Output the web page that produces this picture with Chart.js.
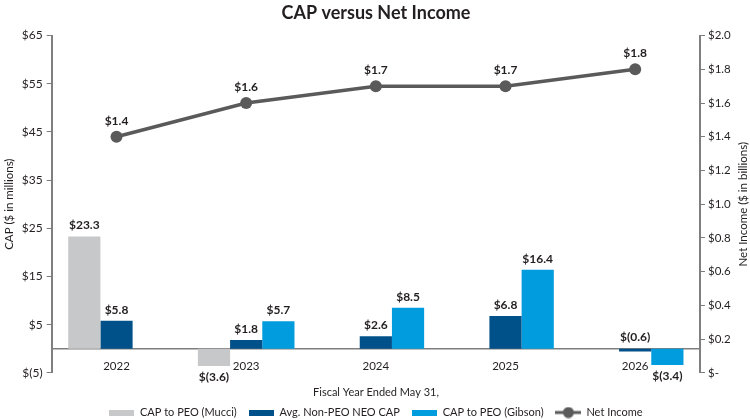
<!DOCTYPE html>
<html>
<head>
<meta charset="utf-8">
<script src="https://cdn.jsdelivr.net/npm/chart.js@4.4.1/dist/chart.umd.min.js"></script>
<style>
  html, body { margin: 0; padding: 0; background: #fff; }
  #wrap { width: 750px; height: 420px; }
</style>
</head>
<body>
<div id="wrap"><canvas id="grafica"></canvas></div>
<script>
const anios = ["2022", "2023", "2024", "2025", "2026"];
const capMucci = [23.3, -3.6, null, null, null];
const capNoPeo = [5.8, 1.8, 2.6, 6.8, -0.6];
const capGibson = [null, 5.7, 8.5, 16.4, -3.4];
const ingresoNeto = [1.4, 1.6, 1.7, 1.7, 1.8];
const ticksCap = [-5, 5, 15, 25, 35, 45, 55, 65];

const fuente = "Lato, sans-serif";
const gris = "#7f7f7f";
const colores = ["#c7c8ca", "#00508a", "#009cde", "#5a5a5a"];
const tituloDerecho = "Net Income ($ in billions)";

function formatoDinero(v) {
  if (v < 0) return "$(" + Math.abs(v).toFixed(1) + ")";
  return "$" + v.toFixed(1);
}

// iconos de leyenda
function iconoBarra(color) {
  const c = document.createElement("canvas");
  c.width = 25; c.height = 6;
  const g = c.getContext("2d");
  g.fillStyle = color;
  g.fillRect(0, 0, 25, 6);
  return c;
}
function iconoLinea(color) {
  const c = document.createElement("canvas");
  c.width = 26; c.height = 12;
  const g = c.getContext("2d");
  g.strokeStyle = color;
  g.lineWidth = 3;
  g.beginPath(); g.moveTo(0, 6); g.lineTo(26, 6); g.stroke();
  g.fillStyle = color;
  g.beginPath(); g.arc(13, 6, 5.5, 0, Math.PI * 2); g.fill();
  return c;
}
const iconos = [iconoBarra(colores[0]), iconoBarra(colores[1]), iconoBarra(colores[2]), iconoLinea(colores[3])];

const etiquetas = {
  id: "etiquetas",
  afterDatasetsDraw(chart) {
    const ctx = chart.ctx;
    ctx.save();
    ctx.font = "bold 12px " + fuente;
    ctx.fillStyle = "#231f20";
    ctx.textAlign = "center";
    chart.data.datasets.forEach((ds, i) => {
      const meta = chart.getDatasetMeta(i);
      meta.data.forEach((el, j) => {
        const v = ds.data[j];
        if (v === null || v === undefined) return;
        let y;
        if (ds.type === "line") {
          ctx.textBaseline = "bottom";
          y = el.y - 10;
        } else if (v >= 0) {
          ctx.textBaseline = "bottom";
          y = el.y - 5;
        } else if (Math.abs(v) < 2) {
          ctx.textBaseline = "bottom";
          y = el.base - 6;
        } else {
          ctx.textBaseline = "top";
          y = el.y + 5;
        }
        ctx.fillText(formatoDinero(v), el.x, y);
      });
    });
    // titulo del eje derecho, leido de abajo hacia arriba
    const s = chart.scales.y2;
    ctx.translate(743, (s.top + s.bottom) / 2);
    ctx.rotate(-Math.PI / 2);
    ctx.font = "11.5px " + fuente;
    ctx.textBaseline = "middle";
    ctx.fillText(tituloDerecho, 0, 0);
    ctx.restore();
  }
};

new Chart(document.getElementById("grafica"), {
  type: "bar",
  data: {
    labels: anios,
    datasets: [
      { label: "CAP to PEO (Mucci)", data: capMucci, backgroundColor: colores[0], yAxisID: "y", order: 1 },
      { label: "Avg. Non-PEO NEO CAP", data: capNoPeo, backgroundColor: colores[1], yAxisID: "y", order: 1 },
      { label: "CAP to PEO (Gibson)", data: capGibson, backgroundColor: colores[2], yAxisID: "y", order: 1 },
      {
        type: "line",
        label: "Net Income",
        data: ingresoNeto,
        borderColor: colores[3],
        backgroundColor: colores[3],
        borderWidth: 3.5,
        pointRadius: 6,
        pointHoverRadius: 6,
        pointBackgroundColor: colores[3],
        pointBorderWidth: 0,
        yAxisID: "y2",
        order: 0
      }
    ]
  },
  options: {
    responsive: true,
    maintainAspectRatio: false,
    animation: false,
    datasets: {
      bar: { categoryPercentage: 0.745, barPercentage: 1.0 }
    },
    layout: { padding: { left: 2, right: 0, top: 2, bottom: -8 } },
    plugins: {
      title: {
        display: true,
        text: "CAP versus Net Income",
        color: "#231f20",
        font: { family: fuente, size: 18, weight: "bold" },
        padding: { top: 0, bottom: 12 }
      },
      subtitle: {
        display: true,
        position: "bottom",
        weight: 500,
        text: "Fiscal Year Ended May 31,",
        color: "#231f20",
        font: { family: fuente, size: 11 },
        padding: { top: 13, bottom: 7 }
      },
      legend: {
        position: "bottom",
        labels: {
          usePointStyle: true,
          pointStyleWidth: 25,
          boxHeight: 6,
          padding: 1,
          color: "#231f20",
          font: { family: fuente, size: 11 },
          generateLabels(chart) {
            const items = Chart.defaults.plugins.legend.labels.generateLabels(chart);
            items.forEach(it => {
              it.pointStyle = iconos[it.datasetIndex];
              if (it.datasetIndex < 3) it.text = it.text + "    ";
            });
            return items.sort((a, b) => a.datasetIndex - b.datasetIndex);
          }
        }
      },
      tooltip: { enabled: false }
    },
    scales: {
      x: {
        position: { y: 0 },
        grid: { display: false },
        border: { display: true, color: gris, width: 1.5 },
        ticks: {
          color: "#231f20",
          font: { family: fuente, size: 11.5 },
          padding: 3
        }
      },
      y: {
        position: "left",
        min: -5,
        max: 65,
        afterBuildTicks(scale) {
          scale.ticks = ticksCap.map(v => ({ value: v }));
        },
        grid: { drawOnChartArea: false, color: gris, tickLength: 5, lineWidth: 1 },
        border: { color: gris, width: 2 },
        ticks: {
          color: "#231f20",
          font: { family: fuente, size: 12 },
          padding: 4,
          callback: v => v < 0 ? "$(" + Math.abs(v) + ")" : "$" + v
        },
        title: {
          display: true,
          text: "CAP ($ in millions)",
          color: "#231f20",
          font: { family: fuente, size: 11.5 },
          padding: { top: 0, bottom: 2 }
        }
      },
      y2: {
        position: "right",
        min: 0,
        max: 2,
        afterFit(scale) { scale.width = 50; },
        grid: { drawOnChartArea: false, color: gris, tickLength: 5, lineWidth: 1 },
        border: { color: gris, width: 2 },
        ticks: {
          stepSize: 0.2,
          color: "#231f20",
          font: { family: fuente, size: 11.5 },
          padding: 3,
          callback: v => Math.abs(v) < 1e-9 ? "$-" : "$" + v.toFixed(1)
        }
      }
    }
  },
  plugins: [etiquetas]
});
</script>
</body>
</html>
